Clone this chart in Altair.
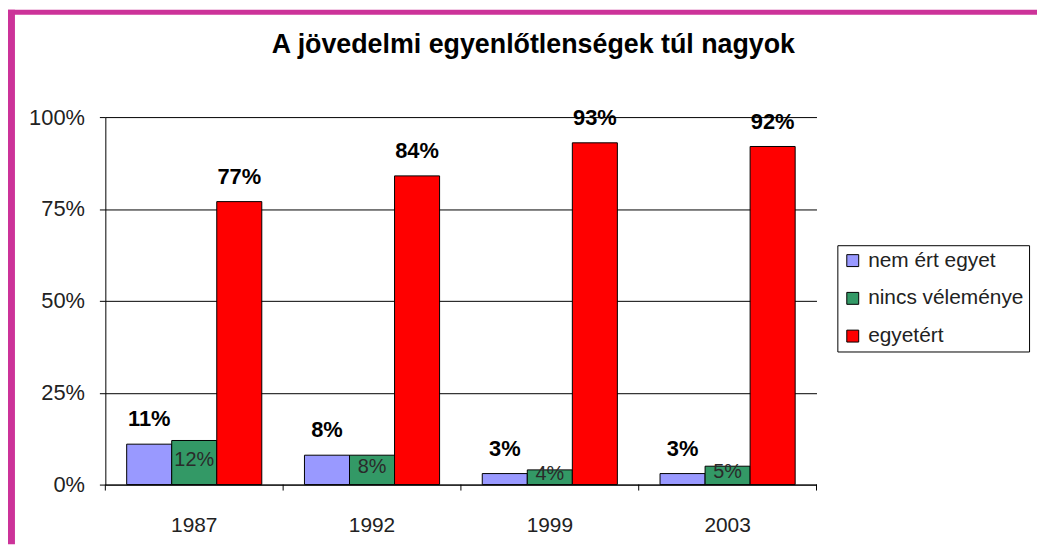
import altair as alt
import pandas as pd

# ---- data ----
years = ["1987", "1992", "1999", "2003"]
series = ["nem ért egyet", "nincs véleménye", "egyetért"]
disagree = [11, 8, 3, 3]
no_opinion = [12, 8, 4, 5]
agree = [77, 84, 93, 92]
colors = ["#9999ff", "#339966", "#ff0000"]
y_ticks = [0, 25, 50, 75, 100]
boundaries = [0, 1, 2, 3, 4]
title_text = "A jövedelmi egyenlőtlenségek túl nagyok"

rows = []
for s, vals in zip(series, [disagree, no_opinion, agree]):
    for yr, v in zip(years, vals):
        rows.append({"year": yr, "series": s, "value": v, "label": f"{v}%"})
df = pd.DataFrame(rows)
bdf = pd.DataFrame({"b": boundaries})

FONT = "Liberation Sans"
W, H = 716, 370

x_enc = alt.X(
    "year:N", sort=years,
    scale=alt.Scale(paddingInner=0.24, paddingOuter=0.12),
    axis=alt.Axis(title=None, labelAngle=0, ticks=False, domain=True,
                  domainColor="black", domainWidth=1, grid=False,
                  labelFont=FONT, labelFontSize=21, labelColor="#222",
                  labelPadding=30),
)
xoff_enc = alt.XOffset("series:N", sort=series,
                       scale=alt.Scale(domain=series, paddingInner=0, paddingOuter=0))
y_axis = alt.Axis(title=None, values=y_ticks, labelExpr="datum.value + '%'",
                  grid=True, gridColor="black", gridWidth=1, gridOpacity=1,
                  tickSize=6, tickColor="black", domainColor="black",
                  labelFont=FONT, labelFontSize=22, labelColor="#222",
                  labelPadding=15)
y_scale = alt.Scale(domain=[0, 100], nice=False)

bars = alt.Chart(df).mark_bar(stroke="black", strokeWidth=1).encode(
    x=x_enc,
    xOffset=xoff_enc,
    y=alt.Y("value:Q", scale=y_scale, axis=y_axis),
    color=alt.Color(
        "series:N",
        scale=alt.Scale(domain=series, range=colors),
        legend=alt.Legend(
            title=None, orient="none", legendX=737, legendY=129,
            strokeColor="black", fillColor="white", padding=5,
            symbolType="square", symbolSize=144, symbolStrokeColor="black",
            symbolStrokeWidth=1, labelFont=FONT, labelFontSize=21,
            labelColor="#222", rowPadding=16, labelOffset=5, labelLimit=400,
        ),
    ),
)

top_labels = alt.Chart(df).transform_filter(
    "datum.series != 'nincs véleménye'"
).mark_text(font=FONT, fontSize=22, fontWeight="bold", color="black",
            baseline="alphabetic", dy=-18).encode(
    x=x_enc,
    xOffset=xoff_enc,
    y=alt.Y("value:Q", scale=y_scale, axis=y_axis),
    text="label:N",
)

mid_labels = alt.Chart(df).transform_filter(
    "datum.series == 'nincs véleménye'"
).transform_calculate(half="datum.value / 2").mark_text(
    font=FONT, fontSize=20, color="#2a2a2a", baseline="middle", dy=-3
).encode(
    x=x_enc,
    xOffset=xoff_enc,
    y=alt.Y("half:Q", scale=y_scale, axis=y_axis),
    text="label:N",
)

main = alt.layer(bars, top_labels, mid_labels)

ticks = alt.Chart(bdf).mark_rule(color="black", strokeWidth=1).encode(
    x=alt.X("b:Q", scale=alt.Scale(domain=[0, 4], nice=False, zero=True), axis=None),
    y=alt.value(H),
    y2=alt.value(H + 6),
)

frame_top = alt.Chart(bdf.head(1)).mark_rule(color="#cc3399", strokeWidth=5).encode(
    x=alt.value(-98), x2=alt.value(W + 222), y=alt.value(-105.5)
)
frame_left = alt.Chart(bdf.head(1)).mark_rule(color="#cc3399", strokeWidth=7).encode(
    x=alt.value(-94.5), y=alt.value(-108), y2=alt.value(H + 60)
)

chart = alt.layer(main, ticks, frame_top, frame_left).resolve_scale(
    x="independent"
).properties(
    width=W, height=H,
    title=alt.TitleParams(text=title_text, anchor="middle", dx=73, font=FONT,
                          fontSize=27, fontWeight="bold", color="black",
                          offset=-74, baseline="alphabetic"),
    autosize=alt.AutoSizeParams(type="none"),
    padding={"left": 98, "top": 108, "right": 222, "bottom": 60},
    background="white",
).configure_view(stroke=None)

chart.save("out.html", embed_options={"renderer": "svg", "actions": False})
